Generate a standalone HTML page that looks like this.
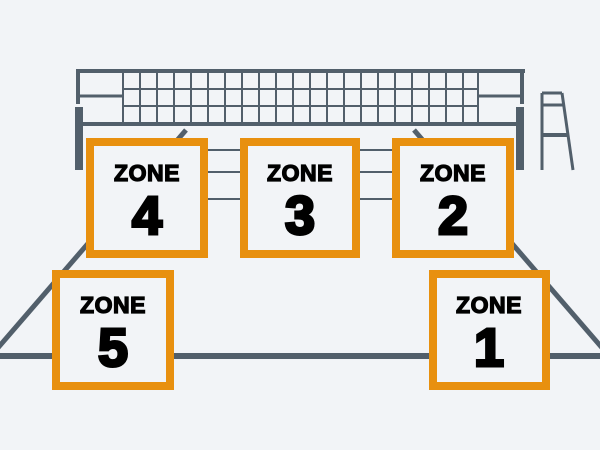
<!DOCTYPE html>
<html><head><style>
html,body{margin:0;padding:0;background:#f2f4f7;}
svg{display:block}
text{font-family:"Liberation Sans",Arial,sans-serif;font-weight:bold;fill:#000;stroke:#000;text-anchor:middle}
</style></head><body>
<svg width="600" height="450" viewBox="0 0 600 450" xmlns="http://www.w3.org/2000/svg">
<rect width="600" height="450" fill="#f2f4f7"/>
<g stroke="#525f6b" fill="none">
  <line x1="186" y1="130" x2="-10" y2="357" stroke-width="5"/>
  <line x1="414" y1="130" x2="610" y2="357" stroke-width="5"/>
  <line x1="0" y1="356" x2="600" y2="356" stroke-width="6"/>
  <line x1="200" y1="150" x2="400" y2="150" stroke-width="2"/>
  <line x1="200" y1="172" x2="400" y2="172" stroke-width="2"/>
  <line x1="200" y1="199" x2="400" y2="199" stroke-width="2"/>
  <line x1="76" y1="71" x2="525" y2="71" stroke-width="4"/>
  <line x1="78" y1="71" x2="78" y2="104" stroke-width="4"/>
  <line x1="522" y1="71" x2="522" y2="104" stroke-width="4"/>
  <line x1="80" y1="96" x2="123" y2="96" stroke-width="3"/>
  <line x1="478" y1="96" x2="520" y2="96" stroke-width="3"/>
  <line x1="80" y1="124" x2="520" y2="124" stroke-width="4"/>
  <line x1="123" y1="89" x2="478" y2="89" stroke-width="2"/>
  <line x1="123" y1="106" x2="478" y2="106" stroke-width="2"/>
</g>
<g stroke="#525f6b" stroke-width="2">
  <line x1="123" y1="72" x2="123" y2="124"/><line x1="140" y1="72" x2="140" y2="124"/><line x1="157" y1="72" x2="157" y2="124"/><line x1="174" y1="72" x2="174" y2="124"/><line x1="191" y1="72" x2="191" y2="124"/><line x1="208" y1="72" x2="208" y2="124"/><line x1="225" y1="72" x2="225" y2="124"/><line x1="242" y1="72" x2="242" y2="124"/><line x1="259" y1="72" x2="259" y2="124"/><line x1="276" y1="72" x2="276" y2="124"/><line x1="293" y1="72" x2="293" y2="124"/><line x1="310" y1="72" x2="310" y2="124"/><line x1="327" y1="72" x2="327" y2="124"/><line x1="344" y1="72" x2="344" y2="124"/><line x1="361" y1="72" x2="361" y2="124"/><line x1="378" y1="72" x2="378" y2="124"/><line x1="395" y1="72" x2="395" y2="124"/><line x1="412" y1="72" x2="412" y2="124"/><line x1="429" y1="72" x2="429" y2="124"/><line x1="446" y1="72" x2="446" y2="124"/><line x1="463" y1="72" x2="463" y2="124"/><line x1="478" y1="72" x2="478" y2="124"/>
</g>
<rect x="75" y="107" width="8" height="63" fill="#525f6b"/>
<rect x="516" y="107" width="8" height="63" fill="#525f6b"/>
<g stroke="#525f6b" stroke-width="3" fill="none">
  <line x1="542" y1="93" x2="542" y2="170"/>
  <line x1="542" y1="93" x2="562" y2="93"/>
  <line x1="562" y1="93" x2="573" y2="170"/>
  <line x1="542" y1="105" x2="564" y2="105"/>
  <line x1="542" y1="135" x2="568" y2="135" stroke-width="4"/>
</g>
<g fill="#f2f4f7" stroke="#e8900f" stroke-width="8">
  <rect x="90" y="142" width="114" height="112"/>
  <rect x="244" y="142" width="112" height="112"/>
  <rect x="396" y="142" width="114" height="112"/>
  <rect x="56" y="274" width="114" height="112"/>
  <rect x="433" y="274" width="113" height="112"/>
</g>
<g font-size="23" stroke-width="1.3" letter-spacing="0.5">
  <text x="147" y="181">ZONE</text><text x="300" y="181">ZONE</text><text x="453" y="181">ZONE</text>
  <text x="113" y="313">ZONE</text><text x="489" y="313">ZONE</text>
</g>
<g font-size="54" stroke-width="3">
  <text x="147" y="234">4</text><text x="300" y="234">3</text><text x="453" y="234">2</text>
  <text x="113" y="366">5</text><text x="489" y="366">1</text>
</g>
</svg>
</body></html>
